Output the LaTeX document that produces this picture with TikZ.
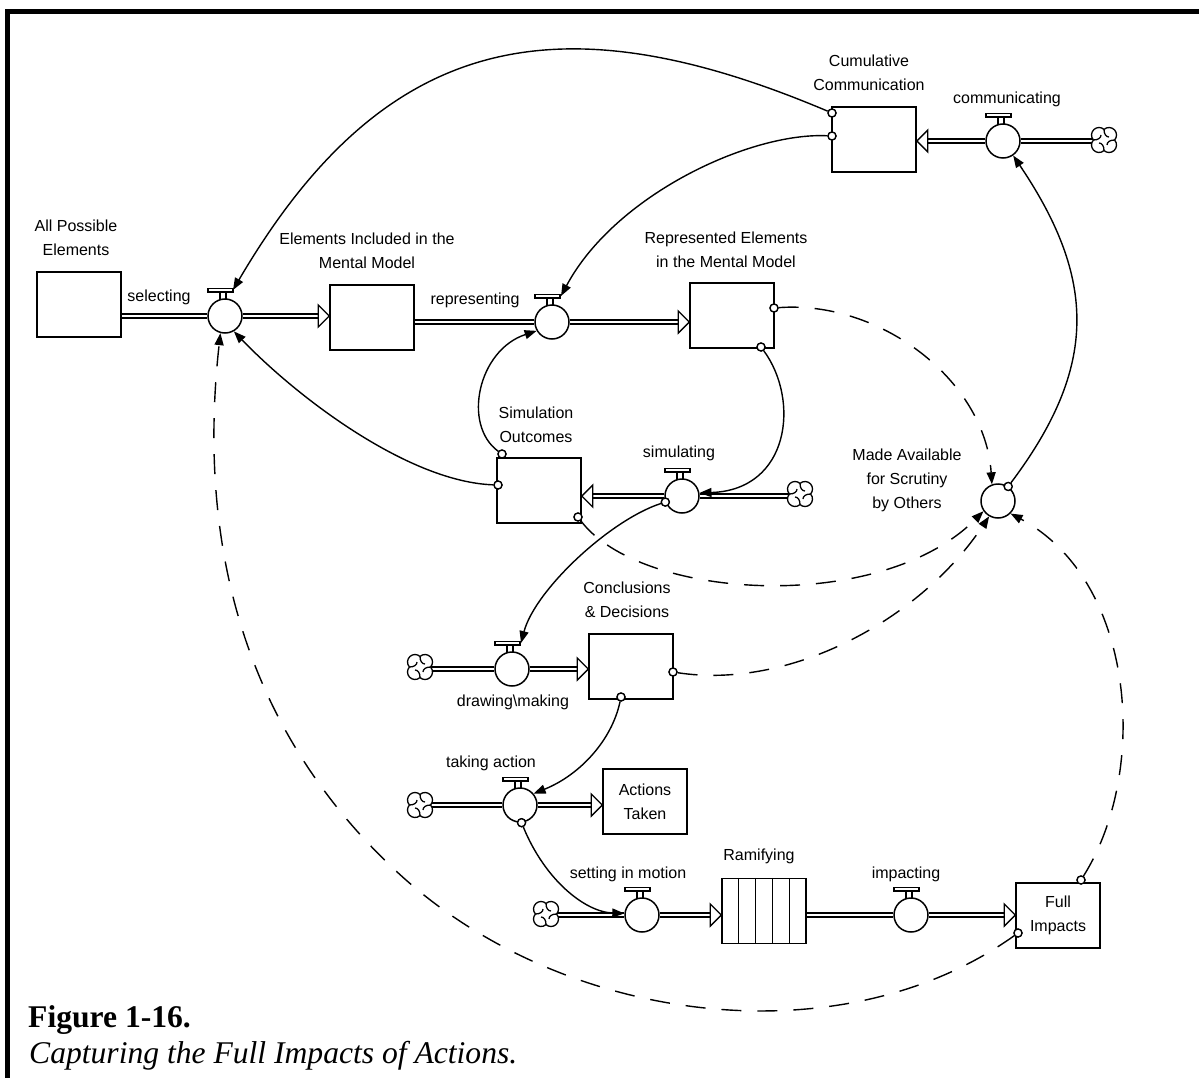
\documentclass[tikz,border=0pt]{standalone}
\usepackage{fontspec}
\setmainfont{Liberation Sans}
\newfontfamily\capfont{Liberation Serif}
\usetikzlibrary{arrows.meta,calc}
\newcommand\lbl{\fontsize{16}{24}\selectfont}
\newcommand\headR[1]{\draw[line width=1.4pt, fill=white] #1 -- ++(-11,-11) -- ++(0,22) -- cycle;}
\newcommand\headL[1]{\draw[line width=1.4pt, fill=white] #1 -- ++(11,-11) -- ++(0,22) -- cycle;}
\newcommand\valvetop[1]{\begin{scope}[shift={(#1.center)}]
  \draw[line width=1.3pt] (-5,-16.2) -- (-5,-24) (1,-16.9) -- (1,-24);
  \draw[line width=1.3pt, fill=white] (-17,-24) rectangle (8,-27.5);
\end{scope}}
\tikzset{
  stock/.style={draw, line width=1.5pt, minimum width=84pt, minimum height=65pt, inner sep=0pt, fill=white, align=center, font=\lbl},
  valve/.style={draw, circle, line width=1.5pt, minimum size=34pt, inner sep=0pt, fill=white},
  lab/.style={align=center, font=\lbl, inner sep=0pt},
  pipe/.style={double, double distance=2.6pt, line width=1.3pt},
  conn/.style={draw, circle, line width=1.3pt, minimum size=8pt, inner sep=0pt, fill=white},
  link/.style={line width=1.4pt, -{Triangle[length=12pt,width=9pt]}},
  dlink/.style={link, dash pattern=on 20pt off 16pt},
  cloudpic/.pic={
    \draw[line width=1.3pt, fill=white] (10.59,0)
      arc[start angle=-41.8,end angle=131.8,radius=7.5]
      arc[start angle=48.2,end angle=221.8,radius=7.5]
      arc[start angle=138.2,end angle=311.8,radius=7.5]
      arc[start angle=228.2,end angle=401.8,radius=7.5] -- cycle;
    \foreach \a in {0,90,180,270} \draw[line width=1.3pt,rotate=\a] (10.59,0) .. controls (6,0) and (3,2) .. (3,5);
  }
}
\begin{document}
\begin{tikzpicture}[x=1pt,y=-1pt]
\useasboundingbox (0,0) rectangle (1199,1078);
% frame
\draw[line width=5pt] (7.5,1082) -- (7.5,11.5) -- (1203,11.5);

% stocks
\node[stock] (AP) at (79,304.5) {};
\node[stock] (EI) at (372,317.5) {};
\node[stock] (RE) at (732,315.5) {};
\node[stock] (CC) at (874,139.5) {};
\node[stock] (SO) at (539,490.5) {};
\node[stock] (CD) at (631,666.5) {};
\node[stock] (AT) at (645,801.5) {Actions\\Taken};
\node[stock] (RA) at (764,911) {};
\node[stock] (FI) at (1058,915.5) {Full\\Impacts};
\foreach \dx in {17,34,51,68} \draw[line width=1.4pt] ($(RA.north west)+(\dx,0)$) -- ($(RA.south west)+(\dx,0)$);

% valves and converter
\node[valve] (sel) at (225,316) {};
\node[valve] (rep) at (552,322) {};
\node[valve] (com) at (1003,141) {};
\node[valve] (sim) at (682,496) {};
\node[valve] (mad) at (998,501) {};
\node[valve] (drw) at (512,669) {};
\node[valve] (tak) at (520,805) {};
\node[valve] (set) at (642,915) {};
\node[valve] (imp) at (911,915) {};

% clouds
\coordinate (clA) at (1104,140);
\coordinate (clB) at (800,494);
\coordinate (clC) at (420,667);
\coordinate (clD) at (420,805);
\coordinate (clE) at (546,914);

% pipes
\draw[pipe] (sel -| AP.east) -- (sel.west);
\draw[pipe] (sel.east) -- ($(sel -| EI.west)+(-11,0)$);
\headR{(sel -| EI.west)}
\draw[pipe] (rep -| EI.east) -- (rep.west);
\draw[pipe] (rep.east) -- ($(rep -| RE.west)+(-11,0)$);
\headR{(rep -| RE.west)}
\draw[pipe] (com.east) -- ($(com)+(90,0)$);
\draw[pipe] (com.west) -- ($(com -| CC.east)+(11,0)$);
\headL{(com -| CC.east)}
\draw[pipe] (sim.east) -- ($(sim)+(107,0)$);
\draw[pipe] (sim.west) -- ($(sim -| SO.east)+(11,0)$);
\headL{(sim -| SO.east)}
\draw[pipe] ($(drw)+(-81,0)$) -- (drw.west);
\draw[pipe] (drw.east) -- ($(drw -| CD.west)+(-11,0)$);
\headR{(drw -| CD.west)}
\draw[pipe] ($(clD)+(10.6,0)$) -- (tak.west);
\draw[pipe] (tak.east) -- ($(tak -| AT.west)+(-11,0)$);
\headR{(tak -| AT.west)}
\draw[pipe] ($(clE)+(10.6,1)$) -- (set.west);
\draw[pipe] (set.east) -- ($(set -| RA.west)+(-11,0)$);
\headR{(set -| RA.west)}
\draw[pipe] (imp -| RA.east) -- (imp.west);
\draw[pipe] (imp.east) -- ($(imp -| FI.west)+(-11,0)$);
\headR{(imp -| FI.west)}

\pic at (clA) {cloudpic};
\pic at (clB) {cloudpic};
\pic at (clC) {cloudpic};
\pic at (clD) {cloudpic};
\pic at (clE) {cloudpic};

\valvetop{sel}
\valvetop{rep}
\valvetop{com}
\valvetop{sim}
\valvetop{drw}
\valvetop{tak}
\valvetop{set}
\valvetop{imp}

% T targets
\coordinate (selT) at ($(sel)+(8,-26)$);
\coordinate (repT) at ($(rep)+(9,-26)$);
\coordinate (drwT) at ($(drw)+(9,-26)$);

% connector origins
\node[conn] (cA) at (832,113) {};
\node[conn] (cB) at (832,136) {};
\node[conn] (cC) at (774,308) {};
\node[conn] (cD) at (761,347) {};
\node[conn] (cE) at (502,454) {};
\node[conn] (cF) at (498,485) {};
\node[conn] (cG) at (578,517) {};
\node[conn] (cH) at (sim.200) {};
\node[conn] (cI) at (673,672) {};
\node[conn] (cJ) at (621,697) {};
\node[conn] (cK) at (tak.-85) {};
\node[conn] (cL) at (1081,880) {};
\node[conn] (cM) at (1018,933) {};
\node[conn] (cN) at (mad.55) {};

% links
\draw[link] (cA) .. controls (556,-4) and (383,34) .. (selT);
\draw[link] (cB) .. controls (750,132) and (615,195) .. (repT);
\draw[dlink] (cC) .. controls (880,300) and (985,380) .. (mad.110);
\draw[link] (cD) .. controls (800,400) and (790,490) .. (sim.10);
\draw[link] (cE) .. controls (462,425) and (478,350) .. (rep.210);
\draw[link] (cF) .. controls (410,482) and (300,400) .. (sel.-60);
\draw[dlink] (cG) .. controls (640,600) and (880,615) .. (mad.215);
\draw[link] (cH) .. controls (610,520) and (535,590) .. (drwT);
\draw[dlink] (cI) .. controls (790,690) and (920,620) .. (mad.240);
\draw[link] (cJ) .. controls (612,740) and (580,775) .. (tak.40);
\draw[link] (cK) .. controls (545,880) and (585,912) .. (set.175);
\draw[dlink] (cL) .. controls (1150,770) and (1135,580) .. (mad.-45);
\draw[dlink] (cM) .. controls (840,1060) and (560,1025) .. (395,870) .. controls (249,733) and (196,552.4) .. (sel.-105);
\draw[link] (cN) .. controls (1098,367) and (1096.75,279.5) .. (com.-55);

% redraw connector circles on top
\foreach \c in {cA,cB,cC,cD,cE,cF,cG,cH,cI,cJ,cK,cL,cM,cN} \draw[line width=1.3pt, fill=white] (\c) circle[radius=4];

% labels
\node[lab] (lAP) at (76,238) {All Possible\\Elements};
\node[lab] (lsel) at (159,297) {selecting};
\node[lab] (lEI) at (367,250.5) {Elements Included in the\\Mental Model};
\node[lab] (lrep) at (475,300) {representing};
\node[lab] (lRE) at (726,249.5) {Represented Elements\\in the Mental Model};
\node[lab] (lCC) at (869,73) {Cumulative\\Communication};
\node[lab] (lcom) at (1007,99) {communicating};
\node[lab] (lSO) at (536,424.5) {Simulation\\Outcomes};
\node[lab] (lsim) at (679,453) {simulating};
\node[lab] (lmad) at (907,480) {Made Available\\for Scrutiny\\by Others};
\node[lab] (lCD) at (627,600) {Conclusions\\\& Decisions};
\node[lab] (ldrw) at (513,702) {drawing\textbackslash making};
\node[lab] (ltak) at (491,763) {taking action};
\node[lab] (lset) at (628,874) {setting in motion};
\node[lab] (lRA) at (759,856) {Ramifying};
\node[lab] (limp) at (906,874) {impacting};

% caption
\node[anchor=base west, inner sep=0pt, font={\capfont\bfseries\fontsize{31.6}{36}\selectfont}] (fig) at (28,1027) {Figure 1-16.};
\node[anchor=base west, inner sep=0pt, font={\capfont\itshape\fontsize{31.6}{36}\selectfont}] (cap) at (29,1063) {Capturing the Full Impacts of Actions.};
\end{tikzpicture}
\end{document}
